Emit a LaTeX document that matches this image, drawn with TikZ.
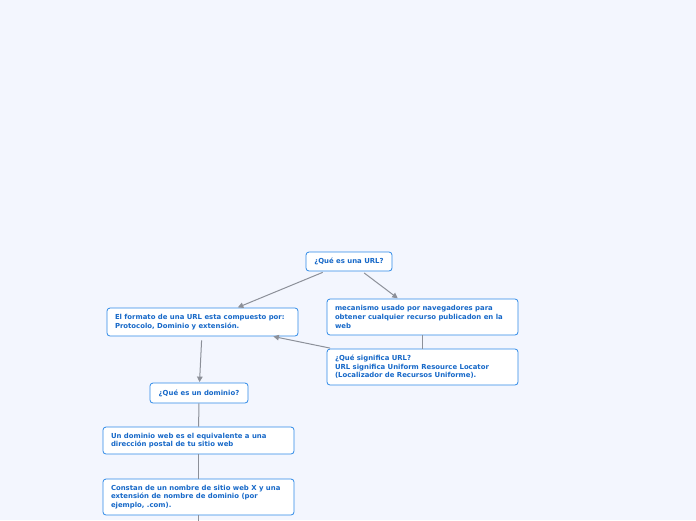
\documentclass[tikz,border=0pt]{standalone}
\usepackage{fontspec}
\setmainfont{DejaVu Sans}
\usetikzlibrary{arrows.meta,positioning}
\definecolor{bgpage}{HTML}{F3F6FE}
\definecolor{boxline}{HTML}{2F8AE8}
\definecolor{boxtext}{HTML}{1668C8}
\definecolor{linkgray}{HTML}{8C9099}
\hyphenpenalty=10000
\exhyphenpenalty=10000

\begin{document}
\begin{tikzpicture}[
    x=1pt,y=-1pt,
    every node/.style={font=\fontsize{6.9}{8.6}\selectfont\bfseries,text=boxtext},
    topic/.style={draw=boxline,fill=white,rounded corners=3pt,line width=0.8pt,inner xsep=8pt,inner ysep=3pt},
    leaf/.style={topic,text width=175pt,align=flush left,minimum height=28pt},
    arr/.style={-{Triangle[length=5.5pt,width=5.5pt]},linkgray,line width=1pt,shorten <=2.5pt,shorten >=0.5pt},
    ln/.style={linkgray,line width=1pt}
]
\fill[bgpage] (0,0) rectangle (696,520);
\useasboundingbox (0,0) rectangle (696,520);

% main topic
\node[topic,minimum height=19pt,minimum width=86pt] (url) at (349,261.5) {¿Qué es una URL?};

% right branch
\node[leaf,minimum height=36pt] (mech) at (422.5,317) {mecanismo usado por navegadores para obtener cualquier recurso publicadon en la web};
\node[leaf,minimum height=36pt] (means) at (422.5,367) {¿Qué significa URL?\\URL significa Uniform Resource Locator (Localizador de Recursos Uniforme).};

% left branch
\node[leaf] (fmt) at (202.5,322) {El formato de una URL esta compuesto por: Protocolo, Dominio y extensión.};
\node[topic,minimum height=20pt,minimum width=98pt] (dom) at (199,393) {¿Qué es un dominio?};
\node[leaf,minimum height=27pt] (addr) at (198.5,440.5) {Un dominio web es el equivalente a una dirección postal de tu sitio web};
\node[leaf,minimum height=36pt] (parts) at (198.5,497) {Constan de un nombre de sitio web X y una extensión de nombre de dominio (por ejemplo, .com).};
\coordinate (more) at (198.5,521);

\draw[arr] (url) -- (fmt);
\draw[arr] (url) -- (mech);
\draw[arr] (means) -- (fmt);
\draw[ln] (mech) -- (means);
\draw[arr,shorten <=4pt] (fmt) -- (dom);
\draw[ln] (dom) -- (addr);
\draw[ln] (addr) -- (parts);
\draw[ln] (parts) -- (more);
\end{tikzpicture}
\end{document}
